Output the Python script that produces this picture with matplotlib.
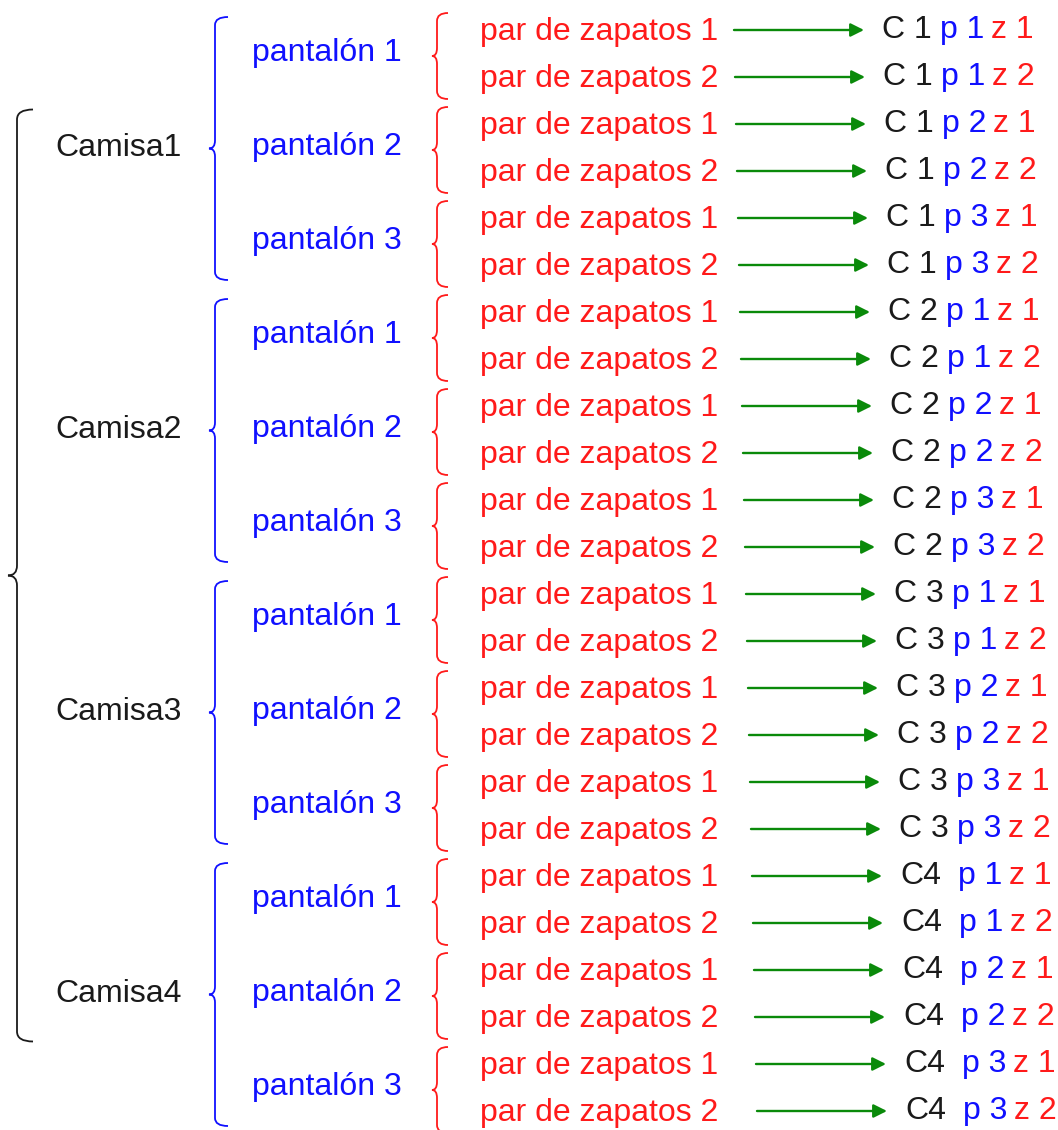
import numpy as np
import matplotlib.pyplot as plt
from matplotlib.path import Path
from matplotlib.patches import PathPatch

# --- DATOS ---
camisas = ["Camisa1", "Camisa2", "Camisa3", "Camisa4"]
pantalones = ["pantalón 1", "pantalón 2", "pantalón 3"]
zapatos = ["par de zapatos 1", "par de zapatos 2"]
cod_camisa = ["C 1", "C 2", "C 3", "C4"]
cod_pantalon = ["p 1", "p 2", "p 3"]
cod_zapato = ["z 1", "z 2"]

negro = "#1a1a1a"
azul = "#1010ff"
rojo = "#ff1a1a"
verde = "#0a8a0a"
fs = 23


def llave(ax, x, y0, y1, w, punta, r, color, lw):
    """Llave izquierda { con linea vertical en x, de y0 a y1."""
    ym = (y0 + y1) / 2
    verts = [(x + w, y0), (x, y0), (x, y0 + r),
             (x, ym - r), (x, ym), (x - punta, ym),
             (x, ym), (x, ym + r),
             (x, y1 - r), (x, y1), (x + w, y1)]
    codes = [Path.MOVETO, Path.CURVE3, Path.CURVE3,
             Path.LINETO, Path.CURVE3, Path.CURVE3,
             Path.CURVE3, Path.CURVE3,
             Path.LINETO, Path.CURVE3, Path.CURVE3]
    ax.add_patch(PathPatch(Path(verts, codes), fill=False, ec=color, lw=lw))


fig = plt.figure(figsize=(10.58, 11.3), dpi=100)
ax = fig.add_axes([0, 0, 1, 1])
ax.set_xlim(0, 1058)
ax.set_ylim(1130, 0)
ax.axis("off")
plt.rcParams["font.family"] = ["Liberation Sans", "DejaVu Sans"]

paso = 47.0
y_inicio = 30
fila = 0
y_camisas = []
for c, cam in enumerate(camisas):
    filas_cam = []
    for p, pan in enumerate(pantalones):
        filas_pan = []
        for z, zap in enumerate(zapatos):
            y = y_inicio + fila * paso
            d = fila * 1.0  # ligera deriva hacia la derecha
            ax.text(480, y + 2, zap, color=rojo, fontsize=fs, va="center", ha="left")
            ax.annotate("", xy=(864 + d, y), xytext=(734 + d, y),
                        arrowprops=dict(arrowstyle="-|>", color=verde, lw=1.7,
                                        mutation_scale=20, shrinkA=0, shrinkB=0))
            ax.text(882 + d, y, cod_camisa[c], color=negro, fontsize=fs, va="center", ha="left")
            ax.text(940 + d, y, cod_pantalon[p], color=azul, fontsize=fs, va="center", ha="left")
            ax.text(991 + d, y, cod_zapato[z], color=rojo, fontsize=fs, va="center", ha="left")
            filas_pan.append(y)
            fila += 1
        yp = np.mean(filas_pan)
        ax.text(252, yp, pan, color=azul, fontsize=fs, va="center", ha="left")
        llave(ax, 437, filas_pan[0] - 17, filas_pan[-1] + 22, 11, 5, 8, rojo, 1.3)
        filas_cam += filas_pan
    yc = np.mean(filas_cam)
    y_camisas.append(yc)
    ax.text(55, yc, cam, color=negro, fontsize=fs, va="center", ha="left")
    llave(ax, 215, filas_cam[0] - 13, filas_cam[-1] + 15, 13, 6, 8, azul, 1.3)

llave(ax, 17, y_camisas[0] - 38, y_camisas[-1] + 48, 16, 9, 10, negro, 1.3)

plt.savefig("out.png", dpi=100)
